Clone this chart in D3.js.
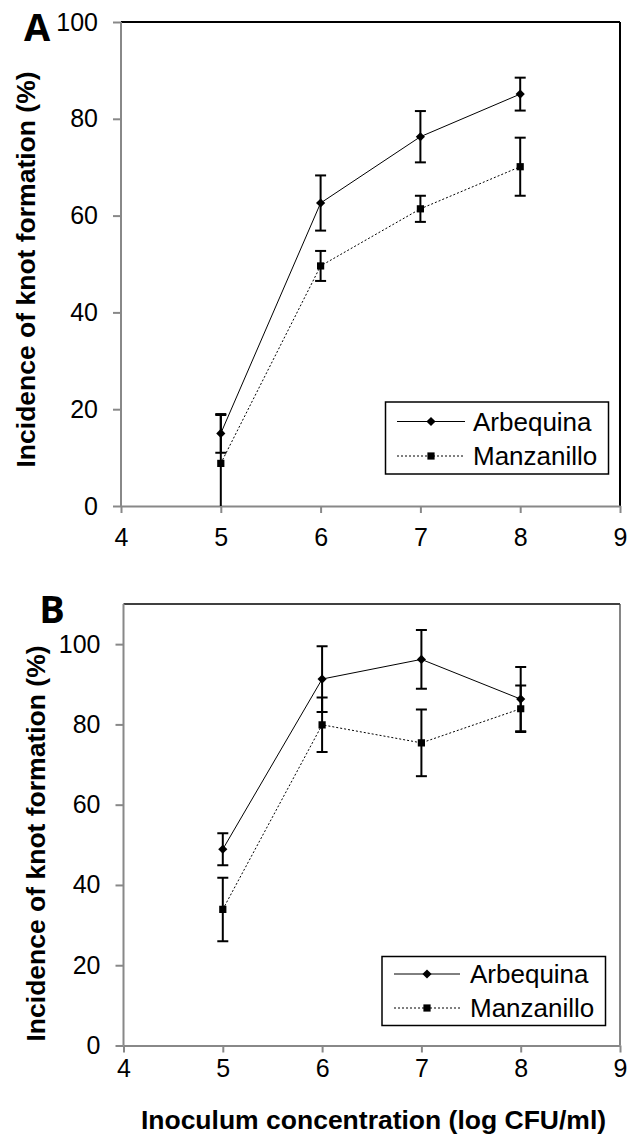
<!DOCTYPE html>
<html>
<head>
<meta charset="utf-8">
<script src="https://cdn.jsdelivr.net/npm/d3@7"></script>
<style>
  body { margin: 0; background: #fff; }
  svg { display: block; }
  text { font-family: "Liberation Sans", Arial, sans-serif; fill: #000; }
</style>
</head>
<body>
<div id="canvas"></div>
<script>
// data
let xVals = [5, 6, 7, 8];
let xTicks = [4, 5, 6, 7, 8, 9];
let yTicks = [0, 20, 40, 60, 80, 100];
let seriesNames = ["Arbequina", "Manzanillo"];

let arbA = [15.0, 62.6, 76.3, 85.1];
let arbErrA = [4.0, 5.7, 5.3, 3.4];
let manA = [8.8, 49.6, 61.4, 70.1];
let manErrA = [10.0, 3.1, 2.7, 6.0];

let arbB = [48.9, 91.3, 96.2, 86.3];
let arbErrB = [4.0, 8.2, 7.3, 8.0];
let manB = [33.9, 79.9, 75.4, 83.9];
let manErrB = [7.9, 6.8, 8.3, 5.8];

let width = 629;
let height = 1138;

var svg = d3.select("#canvas").append("svg")
    .attr("width", width)
    .attr("height", height);

// panel layouts
let panels = [
    {
        id: "A", left: 121, right: 620, top: 22, bottom: 506, yMax: 100,
        xPad: 15, letter: [37, 41], titleX: 35, titleY: 269.5,
        legend: { x: 385.5, y: 402, w: 223, h: 72, row1: 421.5, row2: 456, s1: 397, s2: 465, tx: 473 },
        arb: arbA, arbErr: arbErrA, man: manA, manErr: manErrA
    },
    {
        id: "B", left: 123.5, right: 620, top: 604, bottom: 1045.5, yMax: 110,
        xPad: 7, letter: [52, 623], titleX: 45, titleY: 843.5,
        legend: { x: 382, y: 956.5, w: 223.5, h: 69, row1: 974, row2: 1008, s1: 394, s2: 460, tx: 470 },
        arb: arbB, arbErr: arbErrB, man: manB, manErr: manErrB
    }
];

panels.forEach(function (p) {
    var g = svg.append("g");

    var xScale = d3.scaleLinear().domain([4, 9]).range([p.left, p.right]);
    var yScale = d3.scaleLinear().domain([0, p.yMax]).range([p.bottom, p.top]);

    // frame: top and right borders
    g.append("line")
        .attr("x1", p.left).attr("y1", p.top).attr("x2", p.right).attr("y2", p.top)
        .attr("stroke", "#000").attr("stroke-width", p.id === "A" ? 2 : 1.3);
    g.append("line")
        .attr("x1", p.right).attr("y1", p.top).attr("x2", p.right).attr("y2", p.bottom)
        .attr("stroke", p.id === "A" ? "#000" : "#444").attr("stroke-width", p.id === "A" ? 2 : 1.3);

    // axes
    var yAxis = g.append("g")
        .attr("transform", "translate(" + p.left + ",0)")
        .call(d3.axisLeft(yScale).tickValues(yTicks).tickFormat(d3.format("d"))
            .tickSize(8).tickSizeOuter(0).tickPadding(15));
    yAxis.select(".domain").attr("d", "M0," + p.top + "V" + p.bottom);

    var xAxis = g.append("g")
        .attr("transform", "translate(0," + p.bottom + ")")
        .call(d3.axisBottom(xScale).tickValues(xTicks).tickFormat(d3.format("d"))
            .tickSize(7).tickSizeOuter(0).tickPadding(p.xPad));

    [yAxis, xAxis].forEach(function (a) {
        a.select(".domain").attr("stroke", "#888").attr("stroke-width", 2);
        a.selectAll(".tick line").attr("stroke", "#888").attr("stroke-width", 2);
        a.selectAll(".tick text")
            .style("font-family", "'Liberation Sans', Arial, sans-serif")
            .style("font-size", "25px")
            .attr("fill", "#000");
    });

    // clip for plotted marks
    g.append("clipPath").attr("id", "clip" + p.id)
        .append("rect")
        .attr("x", p.left - 10).attr("y", p.top)
        .attr("width", p.right - p.left + 20).attr("height", p.bottom - p.top);

    var plot = g.append("g").attr("clip-path", "url(#clip" + p.id + ")");

    var series = [
        { vals: p.arb, err: p.arbErr, dash: null, sym: "diamond" },
        { vals: p.man, err: p.manErr, dash: "2,2", sym: "square" }
    ];

    var line = d3.line()
        .x(function (d) { return xScale(d[0]); })
        .y(function (d) { return yScale(d[1]); });

    series.forEach(function (s) {
        var pts = xVals.map(function (x, i) { return [x, s.vals[i], s.err[i]]; });

        plot.append("path")
            .datum(pts)
            .attr("d", line)
            .attr("fill", "none")
            .attr("stroke", "#000")
            .attr("stroke-width", 1)
            .attr("stroke-dasharray", s.dash);

        // error bars
        pts.forEach(function (d) {
            var cx = xScale(d[0]);
            var yHi = yScale(d[1] + d[2]);
            var yLo = yScale(d[1] - d[2]);
            plot.append("line")
                .attr("x1", cx).attr("x2", cx).attr("y1", yHi).attr("y2", yLo)
                .attr("stroke", "#000").attr("stroke-width", 2);
            [yHi, yLo].forEach(function (yy) {
                plot.append("line")
                    .attr("x1", cx - 5.5).attr("x2", cx + 5.5).attr("y1", yy).attr("y2", yy)
                    .attr("stroke", "#000").attr("stroke-width", 2);
            });
        });

        plot.selectAll(null)
            .data(pts)
            .enter().append("path")
            .attr("d", d3.symbol(d3.symbolSquare, s.sym === "diamond" ? 42 : 52))
            .attr("transform", function (d) {
                return "translate(" + xScale(d[0]) + "," + yScale(d[1]) + ")" + (s.sym === "diamond" ? " rotate(45)" : "");
            })
            .attr("fill", "#000");
    });

    // legend
    var L = p.legend;
    g.append("rect")
        .attr("x", L.x).attr("y", L.y).attr("width", L.w).attr("height", L.h)
        .attr("fill", "#fff").attr("stroke", "#000").attr("stroke-width", 1.5);
    [[L.row1, null, "diamond"], [L.row2, "2,2", "square"]].forEach(function (r, i) {
        g.append("line")
            .attr("x1", L.s1).attr("x2", L.s2).attr("y1", r[0]).attr("y2", r[0])
            .attr("stroke", "#000").attr("stroke-width", 1).attr("stroke-dasharray", r[1]);
        g.append("path")
            .attr("d", d3.symbol(d3.symbolSquare, r[2] === "diamond" ? 42 : 52))
            .attr("transform", "translate(" + ((L.s1 + L.s2) / 2) + "," + r[0] + ")" + (r[2] === "diamond" ? " rotate(45)" : ""))
            .attr("fill", "#000");
        g.append("text")
            .attr("x", L.tx).attr("y", r[0]).attr("dy", "0.36em")
            .style("font-size", "26px")
            .text(seriesNames[i]);
    });

    // y title
    g.append("text")
        .attr("transform", "translate(" + p.titleX + "," + p.titleY + ") rotate(-90)")
        .attr("text-anchor", "middle")
        .style("font-size", "26.5px")
        .style("font-weight", "bold")
        .text("Incidence of knot formation (%)");

    // panel letter
    g.append("text")
        .attr("x", p.letter[0]).attr("y", p.letter[1])
        .attr("text-anchor", "middle")
        .style("font-family", "'Open Sans', sans-serif")
        .style("font-size", "38px")
        .style("font-weight", "bold")
        .text(p.id);
});

// x title (bottom panel only)
svg.append("text")
    .attr("x", 373.5).attr("y", 1129)
    .attr("text-anchor", "middle")
    .style("font-size", "26.5px")
    .style("font-weight", "bold")
    .text("Inoculum concentration (log CFU/ml)");
</script>
</body>
</html>
